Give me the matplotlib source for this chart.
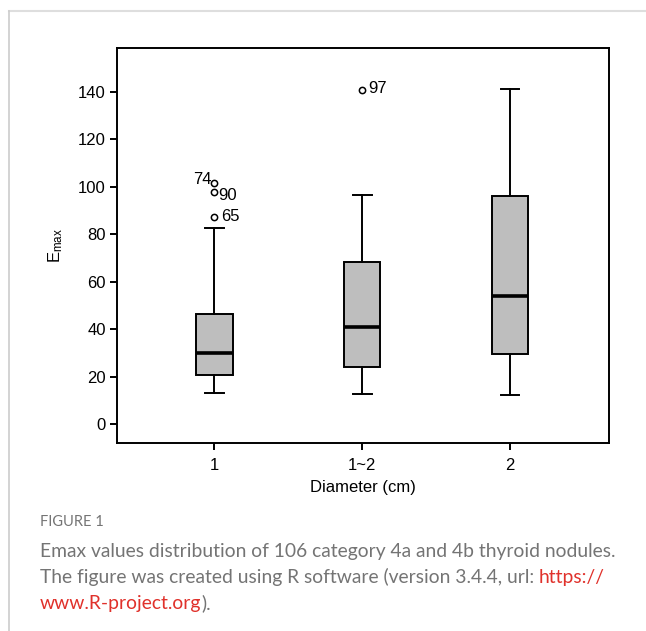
import matplotlib
matplotlib.use("Agg")
import matplotlib.pyplot as plt
from matplotlib.lines import Line2D

plt.rcParams["font.family"] = ["Liberation Sans", "DejaVu Sans"]

# box summary
groups = ["1", "1~2", "2"]
q1 = [20.8, 23.9, 29.4]
median = [30.1, 40.8, 53.9]
q3 = [46.3, 68.3, 96.2]
whis_lo = [13.2, 12.7, 12.4]
whis_hi = [82.5, 96.5, 141.3]

# labelled outliers: group index, value, case id
out_group = [0, 0, 0, 1]
out_value = [101.8, 98.0, 87.5, 140.8]
out_id = ["74", "90", "65", "97"]

yticks = [0, 20, 40, 60, 80, 100, 120, 140]

stats = []
for i, g in enumerate(groups):
    fl = [v for gi, v in zip(out_group, out_value) if gi == i]
    stats.append(dict(label=g, q1=q1[i], med=median[i], q3=q3[i],
                      whislo=whis_lo[i], whishi=whis_hi[i], fliers=fl))

fig = plt.figure(figsize=(6.46, 6.31), dpi=100)
ax = fig.add_axes([0.181, 0.298, 0.762, 0.626])

ax.bxp(stats, positions=[1, 2, 3], widths=0.245, patch_artist=True,
       boxprops=dict(facecolor="#bebebe", edgecolor="black", linewidth=1.4),
       medianprops=dict(color="black", linewidth=2.6),
       whiskerprops=dict(color="black", linewidth=1.4),
       capprops=dict(color="black", linewidth=1.4),
       capwidths=0.125,
       flierprops=dict(marker="o", markersize=4.5, markerfacecolor="none",
                       markeredgecolor="black", markeredgewidth=1.1))

# outlier ids, placed as in R's identify()
offsets = {"74": (-2, 2, "right"), "90": (3, -3, "left"),
           "65": (5, 0, "left"), "97": (4, 1, "left")}
for gi, v, lab in zip(out_group, out_value, out_id):
    dx, dy, ha = offsets[lab]
    ax.annotate(lab, (gi + 1, v), xytext=(dx, dy), textcoords="offset points",
                ha=ha, va="center", fontsize=12)

ax.set_xlim(0.34, 3.67)
ax.set_ylim(-8, 158.6)
ax.set_yticks(yticks)
ax.set_xticks([1, 2, 3])
ax.set_xticklabels(groups)
ax.tick_params(axis="both", labelsize=12, length=5, width=1.4, direction="out")
ax.tick_params(axis="x", pad=6)
ax.tick_params(axis="y", pad=3)
for s in ax.spines.values():
    s.set_linewidth(1.4)
ax.set_xlabel("Diameter (cm)", fontsize=12, labelpad=5)
ax.set_ylabel(r"$\mathregular{E_{max}}$", fontsize=12, labelpad=9)

# card border and caption
fig.add_artist(Line2D([9 / 646, 1], [1 - 11 / 631, 1 - 11 / 631],
                      transform=fig.transFigure, color="#dedede", lw=1.5))
fig.add_artist(Line2D([9 / 646, 9 / 646], [0, 1 - 11 / 631],
                      transform=fig.transFigure, color="#cccccc", lw=1.2))

cap_font = ["Lato", "DejaVu Sans"]
grey = "#747474"
red = "#e0312b"
fs = 13.85
fig.text(40 / 646, 1 - 522 / 631, "FIGURE 1", fontsize=10.5, color=grey,
         family=cap_font, va="center")
fig.text(40 / 646, 1 - 551 / 631,
         "Emax values distribution of 106 category 4a and 4b thyroid nodules.",
         fontsize=fs, color=grey, family=cap_font, va="center")
t = fig.text(40 / 646, 1 - 577 / 631,
             "The figure was created using R software (version 3.4.4, url: ",
             fontsize=fs, color=grey, family=cap_font, va="center")
fig.canvas.draw()
bb = t.get_window_extent()
fig.text(bb.x1 / fig.bbox.width, 1 - 577 / 631, "https://", fontsize=fs,
         color=red, family=cap_font, va="center")
t2 = fig.text(40 / 646, 1 - 603 / 631, "www.R-project.org", fontsize=fs,
              color=red, family=cap_font, va="center")
fig.canvas.draw()
bb2 = t2.get_window_extent()
fig.text(bb2.x1 / fig.bbox.width, 1 - 603 / 631, ").", fontsize=fs,
         color=grey, family=cap_font, va="center")

fig.savefig("out.png", dpi=100)
